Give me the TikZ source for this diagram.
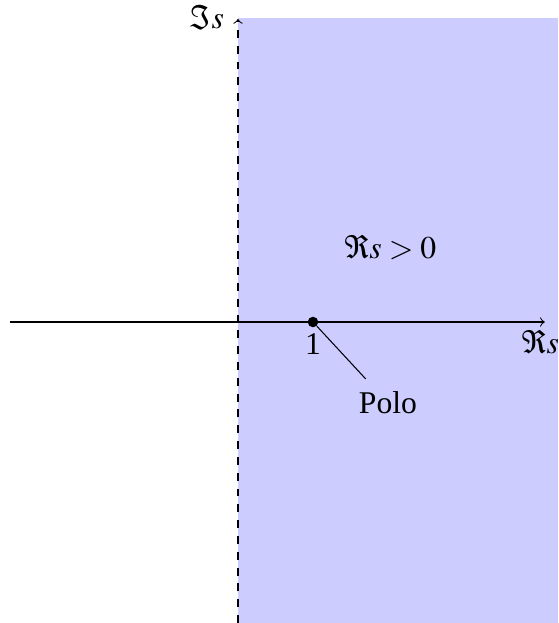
\documentclass[tikz,border=0pt,12pt]{standalone}
\usepackage{mathptmx}
\usepackage{fontspec}
\setmainfont{Liberation Serif}
\usetikzlibrary{positioning}

\begin{document}
\begin{tikzpicture}[
    region/.style={fill=blue!20, draw=none},
    axis/.style={->, thin},
    imaxis/.style={->, thin, dashed},
    pole/.style={circle, fill=black, inner sep=0pt, minimum size=4pt},
    pointer/.style={thin, shorten >=1pt}]

    \useasboundingbox (-3.173,-4.013) rectangle (4.267,4.293);

    % half plane Re s > 0
    \fill[region] (0,-4.013) rectangle (4.267,4.05);

    \coordinate (xmin) at (-3.04,0);
    \coordinate (xmax) at (4.09,0);
    \coordinate (ymin) at (0,-4.013);
    \coordinate (ymax) at (0,4.04);

    \draw[axis] (xmin) -- (xmax);
    \draw[imaxis] (ymin) -- (ymax);

    \node (relbl) at (4.03,-0.27) {$\Re s$};
    \node[anchor=east] (imlbl) at (-0.04,4.06) {$\Im s$};
    \node (halfplane) at (2.03,1.0) {$\Re s > 0$};

    \node[pole] (p1) at (1,0) {};
    \node[below=-2pt of p1] (one) {1};
    \node (polo) at (2.0,-1.08) {Polo};
    \draw[pointer] (p1) -- (polo);

\end{tikzpicture}
\end{document}
